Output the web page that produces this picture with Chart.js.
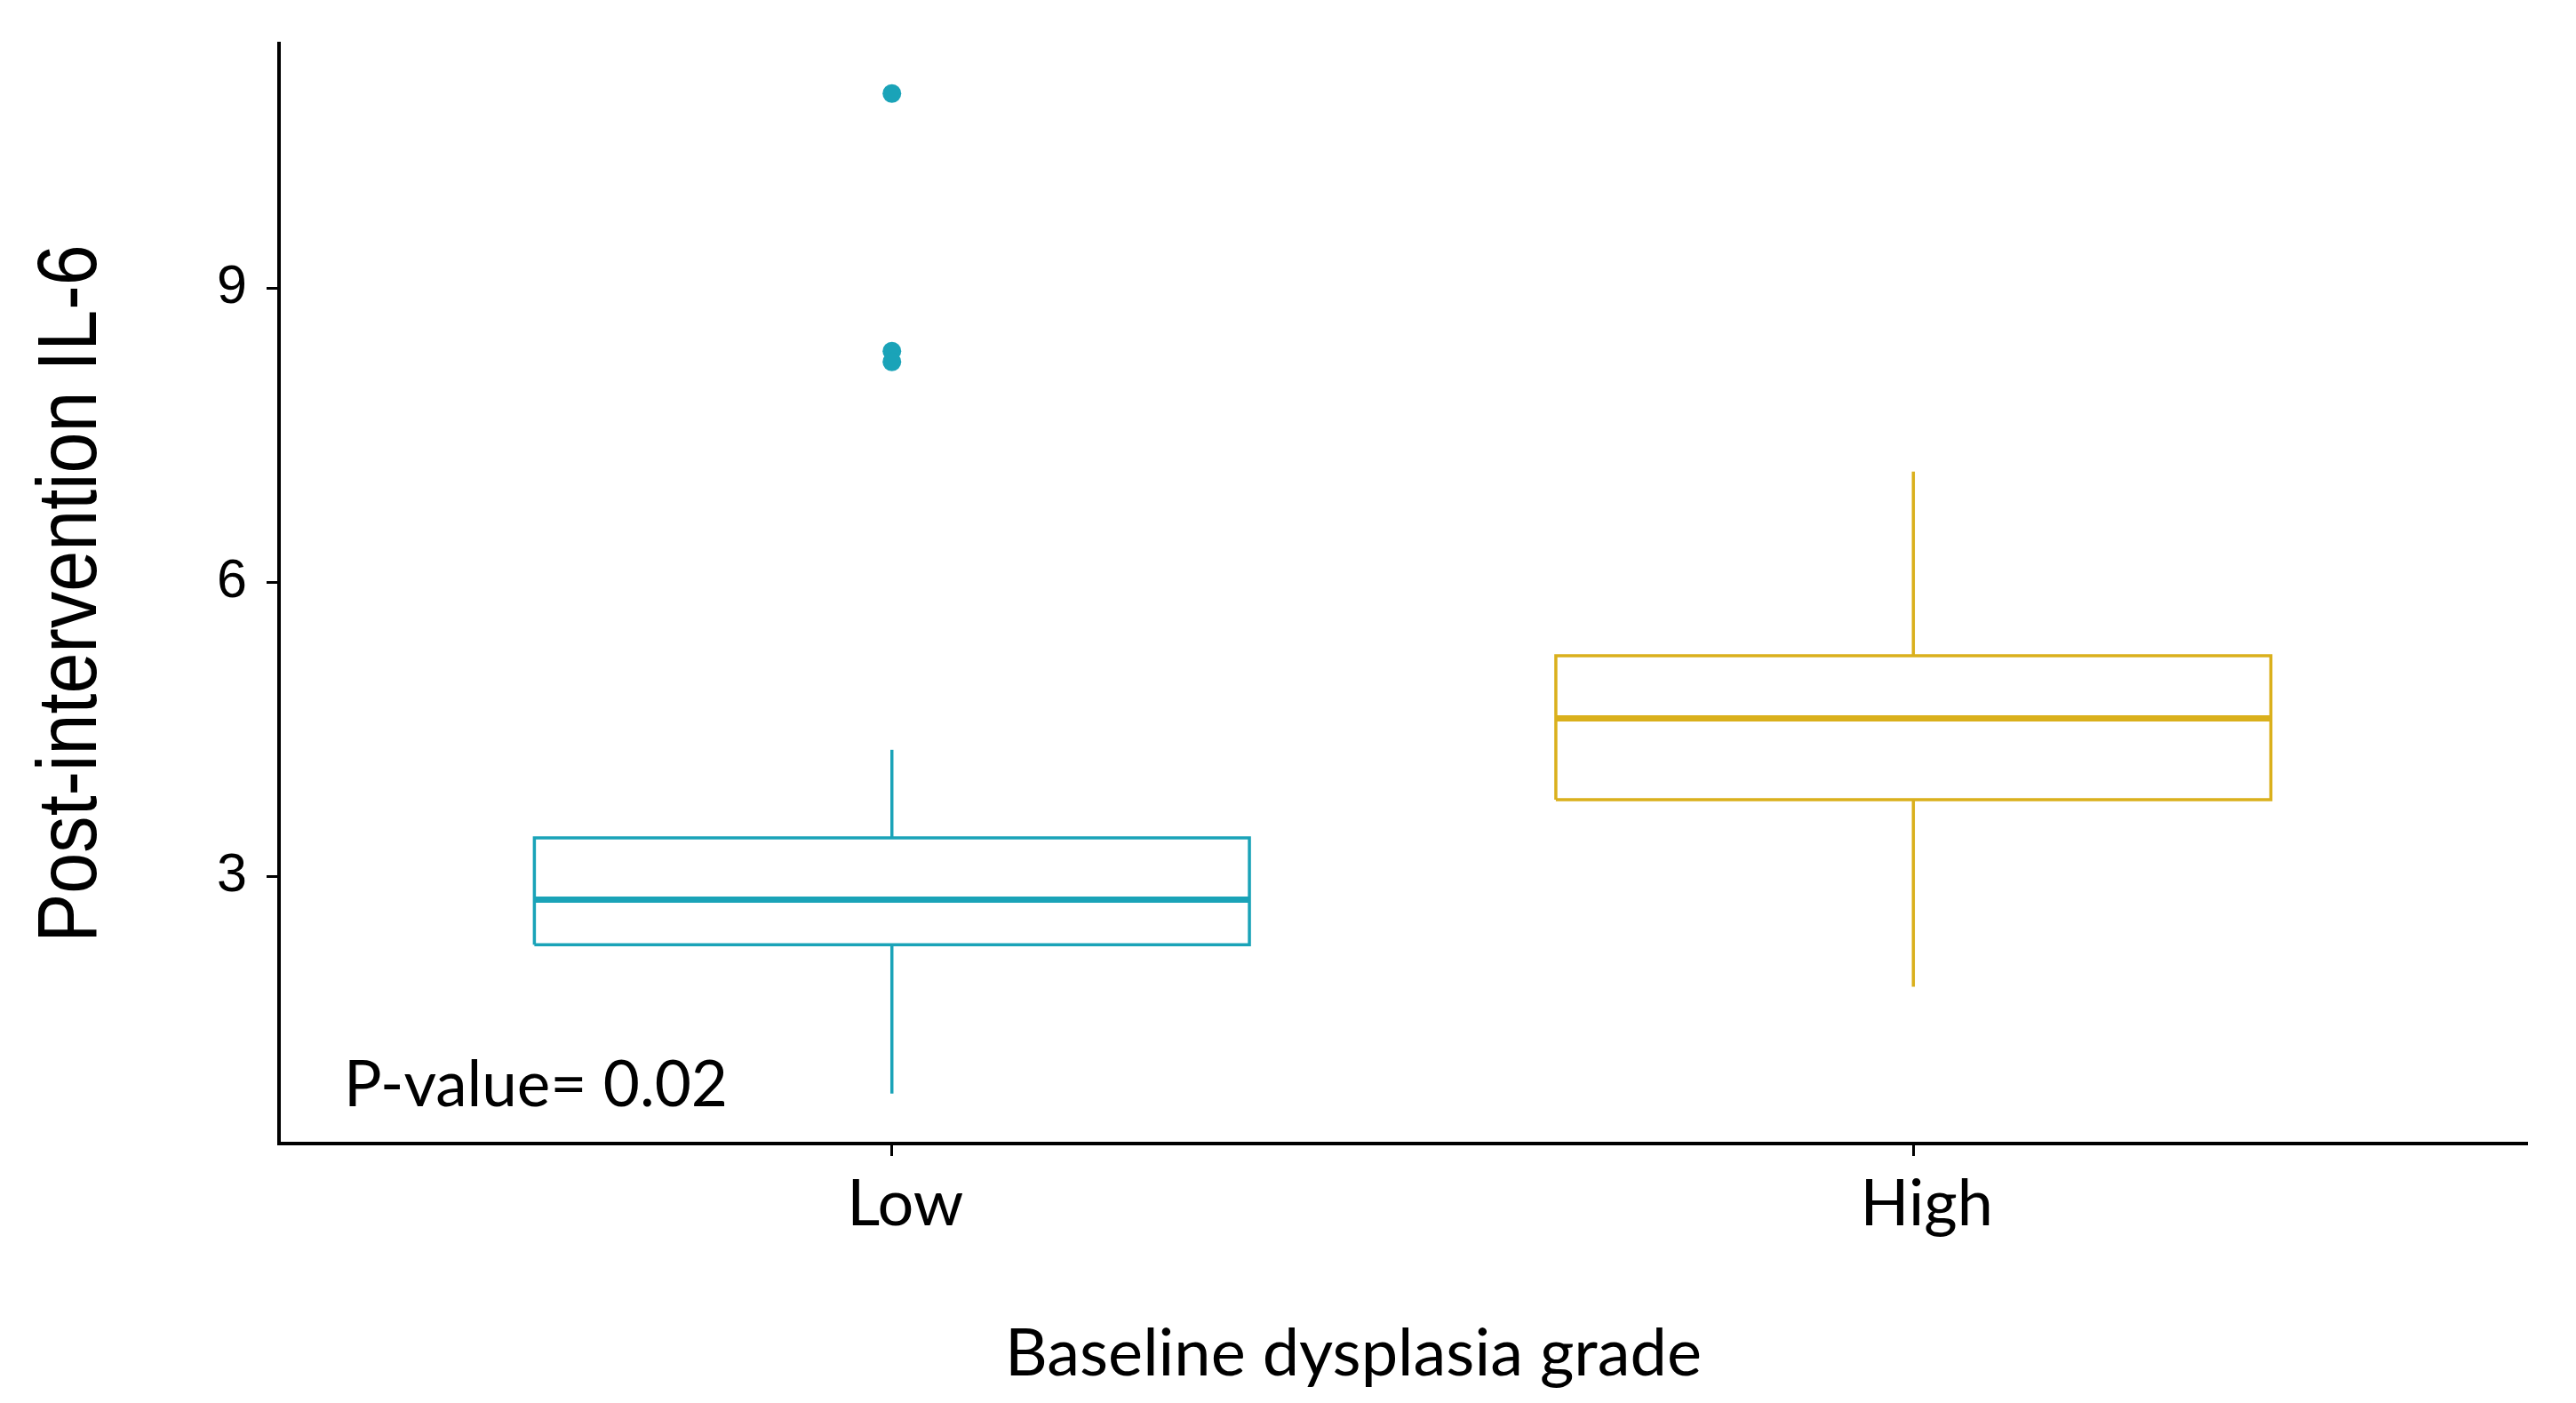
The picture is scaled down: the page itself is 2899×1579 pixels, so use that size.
<!DOCTYPE html>
<html>
<head>
<meta charset="utf-8">
<script src="https://cdn.jsdelivr.net/npm/chart.js@4.4.1/dist/chart.umd.min.js"></script>
<style>
html, body { margin: 0; padding: 0; background: #fff; }
</style>
</head>
<body>
<canvas id="boxChart" width="2899" height="1579"></canvas>
<script>
// values
var groups = ["Low", "High"];
var colors = ["#1aa3b8", "#dab01c"];
var q1 = [2.30, 3.78];
var median = [2.76, 4.61];
var q3 = [3.39, 5.25];
var whiskerLow = [0.78, 1.87];
var whiskerHigh = [4.29, 7.13];
var outliers = [[10.99, 8.36, 8.25], []];
var yTicks = [3, 6, 9];
var pText = "P-value= 0.02";
var xTitle = "Baseline dysplasia grade";
var yTitle = "Post-intervention IL-6";

var halfWidth = 0.35;
var calibriLike = "Lato, 'Open Sans', sans-serif";

window.onload = init;

function init() {
  var datasets = [];
  groups.forEach(function (g, i) {
    var x = i + 1;
    var line = { showLine: true, pointRadius: 0, borderColor: colors[i], borderWidth: 3.5,
                 borderCapStyle: "butt", borderJoinStyle: "miter", fill: false };
    datasets.push(Object.assign({ label: g + " box", data: [
      { x: x - halfWidth, y: q1[i] }, { x: x + halfWidth, y: q1[i] },
      { x: x + halfWidth, y: q3[i] }, { x: x - halfWidth, y: q3[i] },
      { x: x - halfWidth, y: q1[i] }] }, line));
    datasets.push(Object.assign({}, line, { label: g + " median", borderWidth: 7, data: [
      { x: x - halfWidth, y: median[i] }, { x: x + halfWidth, y: median[i] }] }));
    datasets.push(Object.assign({ label: g + " upper", data: [
      { x: x, y: q3[i] }, { x: x, y: whiskerHigh[i] }] }, line));
    datasets.push(Object.assign({ label: g + " lower", data: [
      { x: x, y: q1[i] }, { x: x, y: whiskerLow[i] }] }, line));
    if (outliers[i].length) {
      datasets.push({ label: g + " outliers", showLine: false,
        data: outliers[i].map(function (v) { return { x: x, y: v }; }),
        pointRadius: 10.5, pointBackgroundColor: colors[i], pointBorderWidth: 0 });
    }
  });

  var textPlugin = {
    id: "texts",
    afterDraw: function (chart) {
      var ctx = chart.ctx;
      var xs = chart.scales.x, ys = chart.scales.y;
      ctx.save();
      ctx.fillStyle = "#000";
      ctx.textBaseline = "alphabetic";
      ctx.textAlign = "left";
      ctx.font = "71px " + calibriLike;
      ctx.fillText(pText, xs.getPixelForValue(0.4635), ys.getPixelForValue(0.65));
      ctx.textAlign = "center";
      ctx.font = "74px " + calibriLike;
      ctx.fillText(xTitle, 1523, 1548);
      // y title, narrowed like the condensed face in the original
      ctx.translate(108, (chart.chartArea.top + chart.chartArea.bottom) / 2);
      ctx.rotate(-Math.PI / 2);
      ctx.scale(0.87, 1);
      ctx.font = "95px 'Liberation Sans', Arial, sans-serif";
      ctx.fillText(yTitle, 0, 0);
      ctx.restore();
    }
  };

  var ctx = document.getElementById("boxChart").getContext("2d");
  new Chart(ctx, {
    type: "scatter",
    data: { datasets: datasets },
    plugins: [textPlugin],
    options: {
      responsive: false,
      animation: false,
      devicePixelRatio: 1,
      layout: { padding: { top: 49, right: 56, bottom: 0, left: 0 } },
      plugins: { legend: { display: false }, tooltip: { enabled: false } },
      scales: {
        x: {
          type: "linear", min: 0.4, max: 2.6,
          afterBuildTicks: function (s) { s.ticks = [{ value: 1 }, { value: 2 }]; },
          afterFit: function (s) { s.height = 292; s.paddingLeft = 0; s.paddingRight = 0; },
          grid: { drawOnChartArea: false, drawTicks: true, tickLength: 14, color: "#000", lineWidth: 3 },
          border: { display: true, color: "#000", width: 4 },
          ticks: { color: "#000", padding: 12, maxRotation: 0, labelOffset: 15,
            font: { family: calibriLike, size: 72 },
            callback: function (v) { return groups[v - 1]; } }
        },
        y: {
          min: 0.27, max: 11.5,
          afterBuildTicks: function (s) { s.ticks = yTicks.map(function (v) { return { value: v }; }); },
          afterFit: function (s) { s.width = 314; s.paddingTop = 0; s.paddingBottom = 0; },
          grid: { drawOnChartArea: false, drawTicks: true, tickLength: 14, color: "#000", lineWidth: 3 },
          border: { display: true, color: "#000", width: 4 },
          ticks: { color: "#000", padding: 22, font: { family: "'Liberation Sans', Arial, sans-serif", size: 61 } }
        }
      }
    }
  });
}
</script>
</body>
</html>
